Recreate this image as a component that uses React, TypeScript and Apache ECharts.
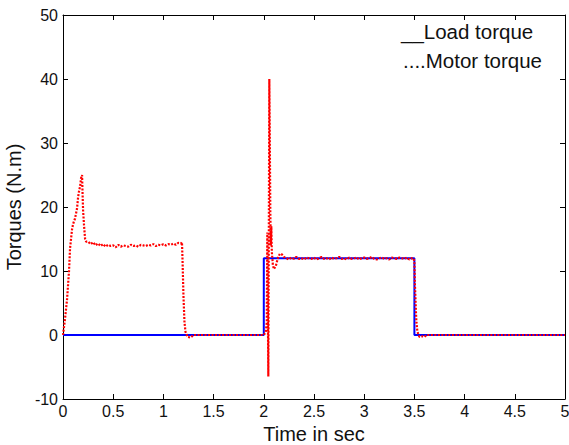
import React, { useEffect, useRef } from "react";
import * as echarts from "echarts";

const xTicks = [0, 0.5, 1, 1.5, 2, 2.5, 3, 3.5, 4, 4.5, 5];
const yTicks = [-10, 0, 10, 20, 30, 40, 50];

const loadTime = [0, 2, 2, 3.5, 3.5, 5];
const loadTorque = [0, 0, 12, 12, 0, 0];

const motorTime = [
  0, 0.02, 0.04, 0.06, 0.07, 0.08, 0.09, 0.1, 0.11, 0.12, 0.13, 0.14, 0.15, 0.16, 0.17, 0.18, 0.19,
  0.195, 0.2, 0.21, 0.22, 0.23,
  0.25, 0.275, 0.3, 0.325, 0.35, 0.375, 0.4, 0.425, 0.45, 0.475, 0.5, 0.525, 0.55, 0.575, 0.6, 0.625,
  0.65, 0.675, 0.7, 0.725, 0.75, 0.775, 0.8, 0.825, 0.85, 0.875, 0.9, 0.925, 0.95, 0.975, 1.0, 1.025,
  1.05, 1.075, 1.1, 1.125, 1.15, 1.175,
  1.185, 1.19, 1.2, 1.21, 1.22, 1.24, 1.27, 1.3, 1.5, 1.8, 2.0,
  2.02, 2.03, 2.035, 2.04, 2.045, 2.05, 2.055, 2.06, 2.065, 2.07, 2.075, 2.08, 2.09, 2.1, 2.12, 2.14,
  2.16, 2.18, 2.2,
  2.225, 2.25, 2.275, 2.3, 2.325, 2.35, 2.375, 2.4, 2.425, 2.45, 2.475, 2.5, 2.525, 2.55, 2.575, 2.6,
  2.625, 2.65, 2.675, 2.7, 2.725, 2.75, 2.775, 2.8, 2.825, 2.85, 2.875, 2.9, 2.925, 2.95, 2.975, 3.0,
  3.025, 3.05, 3.075, 3.1, 3.125, 3.15, 3.175, 3.2, 3.225, 3.25, 3.275, 3.3, 3.325, 3.35, 3.375, 3.4,
  3.425, 3.45, 3.475, 3.49,
  3.5, 3.505, 3.51, 3.515, 3.52, 3.53, 3.55, 3.58, 3.6, 3.62, 4.0, 4.5, 5.0,
];

const motorTorque = [
  0, 2.5, 5.5, 10, 13.5, 15, 16.5, 17.3, 17.8, 18.2, 19.0, 19.8, 21.5, 22.5, 23.2, 24.5, 25,
  22, 19.5, 17, 15, 14.6,
  14.6, 14.2, 14.5, 14.0, 14.3, 13.9, 14.2, 13.8, 14.1, 13.9, 14.0, 13.7, 14.1, 13.8, 14.0, 13.9,
  13.8, 14.1, 13.9, 14.0, 13.8, 14.1, 14.0, 13.9, 14.1, 14.0, 14.2, 13.9, 14.1, 14.0, 14.2, 14.0,
  14.2, 14.1, 14.3, 14.1, 14.4, 14.3,
  14.5, 12, 6, 2, 0.5, -0.3, -0.4, 0, 0, 0, 0,
  0.5, 2, 16, 5, -6.5, 15, 40, 30, 19, 14, 17, 13, 11, 10.3, 10.8, 12,
  12.7, 12.6, 12.2,
  12.0, 11.8, 12.1, 11.9, 12.2, 11.9, 12.0, 11.8, 12.1, 12.0, 11.9, 12.1, 11.8, 12.0, 12.2, 11.9,
  12.0, 11.8, 12.1, 11.9, 12.0, 12.2, 11.9, 12.0, 11.8, 12.1, 11.9, 12.0, 12.1, 11.8, 12.0, 12.1,
  11.9, 12.0, 12.2, 11.9, 11.8, 12.0, 12.1, 11.9, 12.0, 11.8, 12.1, 12.0, 11.9, 12.1, 12.0, 11.9,
  12.1, 11.8, 12.0, 12.0,
  11.5, 8, 6, 3.8, 2, 0.5, -0.3, -0.2, -0.3, 0, 0, 0, 0,
];

const FONT = "Liberation Sans, Arial, sans-serif";

export default function App() {
  const ref = useRef<HTMLDivElement>(null);
  useEffect(() => {
    if (!ref.current) return;
    const chart = echarts.init(ref.current, null, { renderer: "svg" });
    const grid = { left: 63, right: 4, top: 15, bottom: 46, containLabel: false, outerBoundsMode: "none" };
    const axisLine = { show: true, onZero: false, lineStyle: { color: "#000", width: 1 } };
    chart.setOption({
      animation: false,
      backgroundColor: "#fff",
      grid,
      xAxis: [
        {
          type: "value",
          min: 0,
          max: 5,
          interval: 0.5,
          position: "bottom",
          axisLine,
          axisTick: { show: true, inside: true, length: 5, lineStyle: { color: "#000" } },
          axisLabel: { color: "#111", fontSize: 16, fontFamily: FONT, margin: 4 },
          splitLine: { show: false },
          name: "Time in sec",
          nameLocation: "middle",
          nameGap: 23,
          nameTextStyle: { color: "#111", fontSize: 20, fontFamily: FONT },
        },
        {
          type: "value",
          min: 0,
          max: 5,
          interval: 0.5,
          position: "top",
          axisLine,
          axisTick: { show: true, inside: true, length: 5, lineStyle: { color: "#000" } },
          axisLabel: { show: false },
          splitLine: { show: false },
        },
      ],
      yAxis: [
        {
          type: "value",
          min: -10,
          max: 50,
          interval: 10,
          position: "left",
          axisLine,
          axisTick: { show: true, inside: true, length: 5, lineStyle: { color: "#000" } },
          axisLabel: { color: "#111", fontSize: 16, fontFamily: FONT, margin: 5 },
          splitLine: { show: false },
          name: "Torques (N.m)",
          nameLocation: "middle",
          nameGap: 34,
          nameTextStyle: { color: "#111", fontSize: 20, fontFamily: FONT },
        },
        {
          type: "value",
          min: -10,
          max: 50,
          interval: 10,
          position: "right",
          axisLine,
          axisTick: { show: true, inside: true, length: 5, lineStyle: { color: "#000" } },
          axisLabel: { show: false },
          splitLine: { show: false },
        },
      ],
      series: [
        {
          type: "line",
          name: "Load torque",
          data: loadTime.map((t, i) => [t, loadTorque[i]]),
          showSymbol: false,
          lineStyle: { color: "#0000ff", width: 2 },
          z: 2,
        },
        {
          type: "line",
          name: "Motor torque",
          data: motorTime.map((t, i) => [t, motorTorque[i]]),
          showSymbol: false,
          lineStyle: { color: "#ff0000", width: 2.2, type: [2, 1.5] },
          z: 3,
        },
      ],
      graphic: [
        {
          type: "text",
          left: 401,
          top: 21,
          style: { text: "__Load torque", fill: "#111", fontSize: 20.5, fontFamily: FONT },
        },
        {
          type: "text",
          left: 403,
          top: 50,
          style: { text: "....Motor torque", fill: "#111", fontSize: 20.5, fontFamily: FONT },
        },
      ],
    });
    return () => chart.dispose();
  }, []);
  return <div ref={ref} style={{ width: 569, height: 445, position: "absolute", left: 0, top: 0 }} />;
}
